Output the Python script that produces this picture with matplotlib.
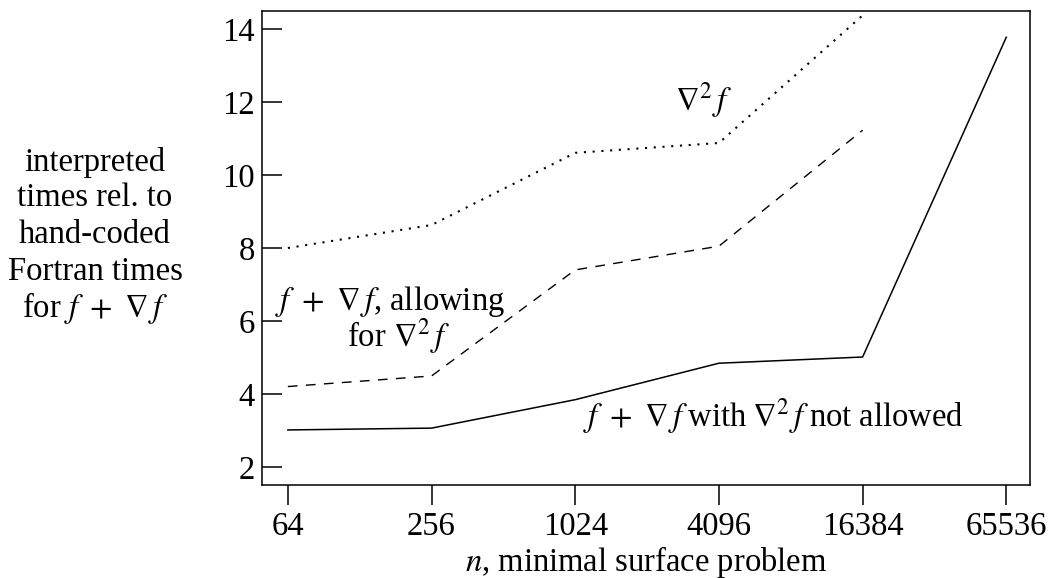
import matplotlib
matplotlib.use("Agg")
import matplotlib.pyplot as plt

n_values = [64, 256, 1024, 4096, 16384, 65536]
tick_labels = ["64", "256", "1024", "4096", "16384", "65536"]

n_solid = [64, 256, 1024, 4096, 16384, 65536]
solid = [3.01, 3.06, 3.84, 4.84, 5.01, 13.78]

n_dashed = [64, 256, 1024, 4096, 16384]
dashed = [4.20, 4.49, 7.40, 8.05, 11.23]

n_dotted = [64, 256, 1024, 4096, 16384]
dotted = [8.00, 8.63, 10.61, 10.88, 14.38]

y_ticks = [2, 4, 6, 8, 10, 12, 14]

plt.rcParams['font.family'] = ['Liberation Serif', 'DejaVu Serif']
plt.rcParams['mathtext.fontset'] = 'stix'
FS = 23.5

fig = plt.figure(figsize=(10.48, 5.78), dpi=100)
ax = fig.add_axes([262/1048, 1-485/578, (1030-262)/1048, (485-11)/578])

ax.plot(n_solid, solid, color='black', lw=1.1, ls='-')
ax.plot(n_dashed, dashed, color='black', lw=1.0, ls=(0, (7, 6)))
ax.plot(n_dotted, dotted, color='black', lw=1.5, ls=(0, (1, 3.2)))

ax.set_xscale('log', base=2)
ax.set_xlim(2**5.64, 2**16.33)
ax.set_ylim(1.5, 14.5)
ax.set_xticks(n_values)
ax.set_xticklabels(tick_labels)
ax.minorticks_off()
ax.set_yticks(y_ticks)
ax.set_yticklabels([str(v) for v in y_ticks])

for s in ax.spines.values():
    s.set_linewidth(1.1)

ax.tick_params(axis='y', direction='in', length=14.4, width=1.1, pad=5, labelsize=FS)
ax.tick_params(axis='x', direction='out', length=14.4, width=1.1, pad=5, labelsize=FS)

ax.set_xlabel(r"$n$, minimal surface problem", fontsize=FS, labelpad=1)

TS = "\u2009"
# annotations
ax.text(2**11.39, 12.05, r"$\nabla^2\, f$", fontsize=FS, ha='left', va='center')
ax.text(2**5.82, 6.30, r"$f\ +\ \nabla\, f$, allowing", fontsize=FS, ha='left', va='baseline')
ax.text(2**6.82, 5.30, r"for $\nabla^2\, f$", fontsize=FS, ha='left', va='baseline')
ax.text(2**10.11, 3.10,
        r"$f\ +\ \nabla\, f$" + TS + "with" + TS + r"$\nabla^2\, f$" + TS + "not allowed",
        fontsize=FS, ha='left', va='baseline')

# y-axis label block
ylab_lines = ["interpreted", "times rel. to", "hand-coded", "Fortran times", r"for $f\ +\ \nabla\, f$"]
ycenters = [162, 198, 235, 272, 308]
for line, yc in zip(ylab_lines, ycenters):
    fig.text(95/1048, 1-yc/578, line, fontsize=FS, ha='center', va='center')

fig.savefig("out.png", dpi=100)
